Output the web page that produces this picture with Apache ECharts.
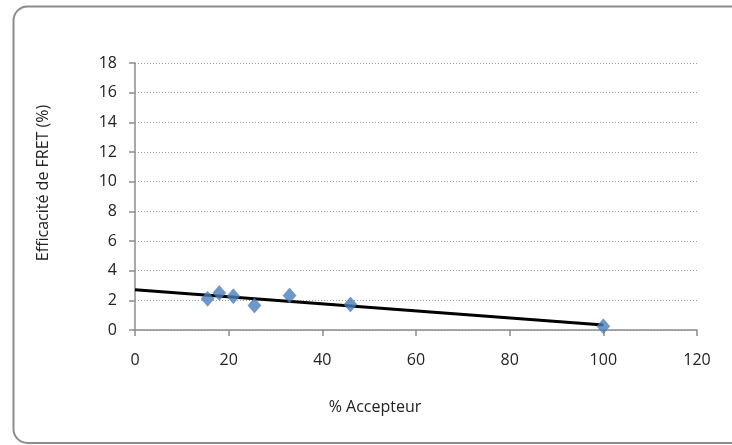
<!DOCTYPE html>
<html>
<head>
<meta charset="utf-8">
<script src="https://cdn.jsdelivr.net/npm/echarts@6/dist/echarts.min.js"></script>
<style>html,body{margin:0;padding:0;background:#fff}#c{width:732px;height:445px}</style>
</head>
<body>
<div id="c"></div>
<script>
// Data
var acceptorPct = [15.5, 18, 21, 25.5, 33, 46, 100];
var fretEfficiency = [2.1, 2.5, 2.28, 1.65, 2.32, 1.72, 0.25];
var trendX = [0, 100];
var trendY = [2.72, 0.33];
var xTicks = [0, 20, 40, 60, 80, 100, 120];
var yTicks = [0, 2, 4, 6, 8, 10, 12, 14, 16, 18];
var xTitle = '% Accepteur';
var yTitle = 'Efficacité de FRET (%)';

var points = acceptorPct.map(function (x, i) { return [x, fretEfficiency[i]]; });
var trend = trendX.map(function (x, i) { return [x, trendY[i]]; });

var FONT = '"Open Sans", "Liberation Sans", sans-serif';
var chart = echarts.init(document.getElementById('c'), null, { renderer: 'canvas' });
chart.setOption({
  animation: false,
  backgroundColor: '#ffffff',
  graphic: [{
    type: 'rect', silent: true, z: -10,
    shape: { x: 13.5, y: 6.5, width: 780, height: 436.5, r: 14 },
    style: { fill: 'none', stroke: '#8c8c8c', lineWidth: 2 }
  }, {
    type: 'text', silent: true,
    x: 375, y: 407,
    style: { text: xTitle, x: 0, y: 0, textAlign: 'center', textVerticalAlign: 'middle',
             font: '16px ' + FONT, fill: '#222' }
  }, {
    type: 'text', silent: true,
    x: 43.5, y: 183, rotation: Math.PI / 2,
    style: { text: yTitle, x: 0, y: 0, textAlign: 'center', textVerticalAlign: 'middle',
             font: '16px ' + FONT, fill: '#222' }
  }],
  grid: { left: 135, right: 35, top: 63, bottom: 115, containLabel: false },
  xAxis: {
    type: 'value', min: xTicks[0], max: xTicks[xTicks.length - 1], interval: 20,
    axisLine: { show: true, lineStyle: { color: '#8c8c8c', width: 1.5 } },
    axisTick: { show: true, inside: false, length: 6, lineStyle: { color: '#8c8c8c', width: 1.5 } },
    axisLabel: { fontFamily: FONT, fontSize: 16, color: '#222', margin: 22 },
    splitLine: { show: false }
  },
  yAxis: {
    type: 'value', min: yTicks[0], max: yTicks[yTicks.length - 1], interval: 2,
    axisLine: { show: true, lineStyle: { color: '#8c8c8c', width: 1.5 } },
    axisTick: { show: true, inside: false, length: 6, lineStyle: { color: '#8c8c8c', width: 1.5 } },
    axisLabel: { fontFamily: FONT, fontSize: 16, color: '#222', margin: 18 },
    splitLine: { show: true, lineStyle: { color: '#9a9a9a', width: 1, type: [1, 2] } }
  },
  series: [{
    type: 'line', data: trend, showSymbol: false, symbol: 'none',
    lineStyle: { color: '#000', width: 3 }, z: 2, silent: true
  }, {
    type: 'scatter', data: points, symbol: 'diamond', symbolSize: [13, 15],
    itemStyle: { color: '#4a7ebb', borderColor: '#3f6fa8', borderWidth: 0.5 }, z: 3
  }]
});
</script>
</body>
</html>
